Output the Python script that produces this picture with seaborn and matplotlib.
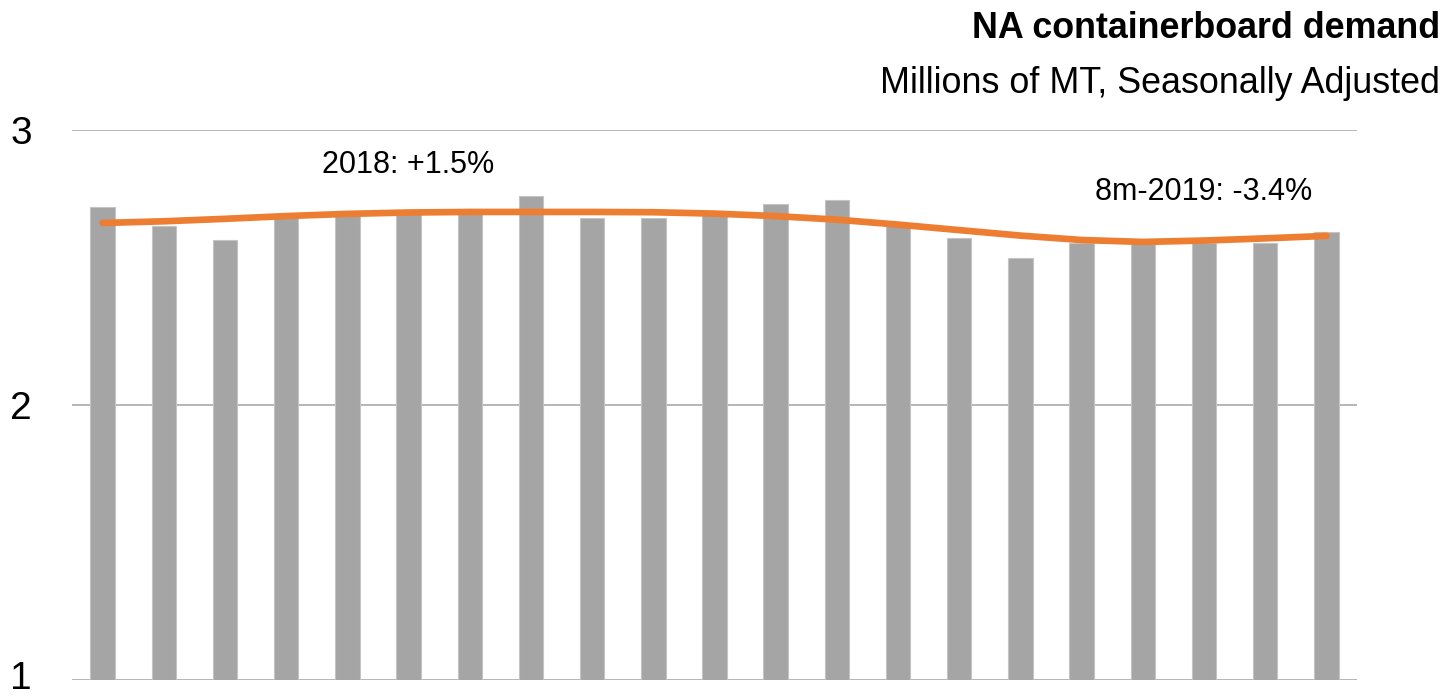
import matplotlib
matplotlib.use("Agg")
import matplotlib.pyplot as plt
import matplotlib.transforms as mtransforms
import seaborn as sns
import pandas as pd

months = ["Dec-17", "Jan-18", "Feb-18", "Mar-18", "Apr-18", "May-18", "Jun-18",
          "Jul-18", "Aug-18", "Sep-18", "Oct-18", "Nov-18", "Dec-18", "Jan-19",
          "Feb-19", "Mar-19", "Apr-19", "May-19", "Jun-19", "Jul-19", "Aug-19"]
demand = [2.72, 2.65, 2.60, 2.69, 2.70, 2.70, 2.70, 2.76, 2.68, 2.68, 2.70,
          2.73, 2.745, 2.655, 2.607, 2.535, 2.59, 2.585, 2.59, 2.589, 2.63]
trend = [2.662, 2.668, 2.677, 2.687, 2.695, 2.700, 2.702, 2.702, 2.702, 2.701,
         2.696, 2.687, 2.674, 2.656, 2.636, 2.616, 2.600, 2.593, 2.598, 2.606, 2.615]
yticks = [1, 2, 3]
title = "NA containerboard demand"
subtitle = "Millions of MT, Seasonally Adjusted"
notes = [("2018: +1.5%", 5, 2.844), ("8m-2019: -3.4%", 18, 2.745)]

sns.set_theme(style="white")
plt.rcParams["font.family"] = ["Liberation Sans", "DejaVu Sans"]

df = pd.DataFrame({"month": months, "demand": demand, "trend": trend,
                   "pos": range(len(months))})

fig = plt.figure(figsize=(14.52, 6.97), dpi=100)
ax = fig.add_axes([72 / 1452, 1 - 680 / 697, (1357 - 72) / 1452, (680 - 130) / 697])

sns.barplot(data=df, x="month", y="demand", color="#a5a5a5", saturation=1,
            width=0.4, edgecolor="#c4c4c4", linewidth=0.8, ax=ax, zorder=2)
sns.lineplot(data=df, x="pos", y="trend", color="#ed7d31", linewidth=4.8,
             ax=ax, zorder=3, solid_capstyle="round")

ax.set_ylim(1, 3)
ax.set_xlim(-0.5, len(months) - 0.5)
ax.set_yticks(yticks)
ax.set_yticklabels([str(t) for t in yticks], fontsize=28, color="black")
ax.tick_params(axis="y", length=0, pad=29)
ax.set_xticks([])
ax.set_xlabel("")
ax.set_ylabel("")
for s in ["top", "right", "left", "bottom"]:
    ax.spines[s].set_visible(False)
ax.yaxis.grid(True, color="#b5b5b5", linewidth=1.4, zorder=0)
ax.set_axisbelow(True)

# keep the bottom label inside the canvas
lab = ax.get_yticklabels()[0]
lab.set_transform(lab.get_transform() +
                  mtransforms.ScaledTranslation(0, 5 / 100, fig.dpi_scale_trans))

for txt, xi, yv in notes:
    ax.text(xi, yv, txt, ha="center", va="baseline", fontsize=22, color="black", zorder=4)

fig.text(1440 / 1452, 1 - 38 / 697, title, ha="right", va="baseline",
         fontsize=25.8, fontweight="bold", color="black")
fig.text(1440 / 1452, 1 - 93 / 697, subtitle, ha="right", va="baseline",
         fontsize=25.8, color="black")

fig.savefig("out.png", dpi=100)
